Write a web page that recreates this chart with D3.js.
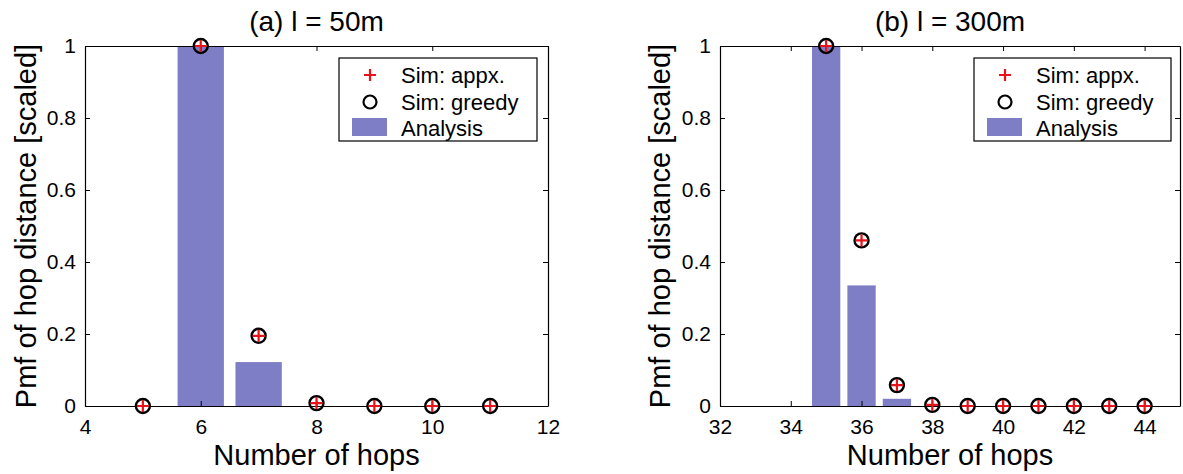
<!DOCTYPE html>
<html>
<head>
<meta charset="utf-8">
<script src="https://cdn.jsdelivr.net/npm/d3@7"></script>
<style>
  body { margin: 0; background: #fff; }
  text { font-family: "Liberation Sans", Arial, Helvetica, sans-serif; fill: #000; }
</style>
</head>
<body>
<svg id="chart" width="1183" height="474"></svg>
<script>
// panel (a) l = 50m
const hopsA = [5, 6, 7, 8, 9, 10, 11];
const simAppxA = [0, 1, 0.195, 0.008, 0, 0, 0];
const simGreedyA = [0, 1, 0.195, 0.008, 0, 0, 0];
const barHopsA = [6, 7];
const analysisA = [1, 0.122];
const xTicksA = [4, 6, 8, 10, 12];

// panel (b) l = 300m
const hopsB = [35, 36, 37, 38, 39, 40, 41, 42, 43, 44];
const simAppxB = [1, 0.46, 0.058, 0.003, 0, 0, 0, 0, 0, 0];
const simGreedyB = [1, 0.46, 0.058, 0.003, 0, 0, 0, 0, 0, 0];
const barHopsB = [35, 36, 37];
const analysisB = [1, 0.335, 0.02];
const xTicksB = [32, 34, 36, 38, 40, 42, 44];

const yTicks = [0, 0.2, 0.4, 0.6, 0.8, 1];
const legendLabels = ['Sim: appx.', 'Sim: greedy', 'Analysis'];

const barColor = '#7d7ec5';
const svg = d3.select('#chart');

function drawPanel(cfg) {
    const { left, right, top, bottom } = cfg.box;
    const x = d3.scaleLinear().domain(cfg.xDomain).range([left, right]);
    const y = d3.scaleLinear().domain([0, 1]).range([bottom, top]);
    const g = svg.append('g');

    // bars
    g.selectAll('rect.bar')
        .data(cfg.barHops.map((h, i) => ({ h: h, v: cfg.analysis[i] })))
        .enter().append('rect')
        .attr('class', 'bar')
        .attr('x', d => x(d.h - 0.4))
        .attr('width', d => x(d.h + 0.4) - x(d.h - 0.4))
        .attr('y', d => y(d.v))
        .attr('height', d => y(0) - y(d.v))
        .attr('fill', barColor);

    // axes, MATLAB style ticks inside on all sides
    const xAxis = d3.axisBottom(x).tickValues(cfg.xTicks).tickSizeInner(-5).tickSizeOuter(0).tickPadding(13).tickFormat(d3.format('d'));
    const xAxisG = g.append('g').attr('transform', `translate(0,${bottom})`).call(xAxis);
    const xTopG = g.append('g').attr('transform', `translate(0,${top})`)
        .call(d3.axisTop(x).tickValues(cfg.xTicks).tickSizeInner(-5).tickSizeOuter(0).tickFormat(''));
    const yAxis = d3.axisLeft(y).tickValues(yTicks).tickSizeInner(-5).tickSizeOuter(0).tickPadding(9).tickFormat(d => d3.format('~g')(d));
    const yAxisG = g.append('g').attr('transform', `translate(${left},0)`).call(yAxis);
    const yRightG = g.append('g').attr('transform', `translate(${right},0)`)
        .call(d3.axisRight(y).tickValues(yTicks).tickSizeInner(-5).tickSizeOuter(0).tickFormat(''));
    [xAxisG, xTopG, yAxisG, yRightG].forEach(a => {
        a.selectAll('.domain').attr('stroke', '#000').attr('stroke-width', 1.2);
        a.selectAll('line').attr('stroke', '#000');
        a.selectAll('text').style('font-size', '21px').attr('fill', '#000');
    });

    // markers
    const pts = cfg.hops.map((h, i) => ({ h: h, a: cfg.simAppx[i], gr: cfg.simGreedy[i] }));
    g.selectAll('circle.greedy').data(pts).enter().append('circle')
        .attr('class', 'greedy')
        .attr('cx', d => x(d.h)).attr('cy', d => y(d.gr)).attr('r', 7)
        .attr('fill', 'none').attr('stroke', '#000').attr('stroke-width', 2.4);
    g.selectAll('path.appx').data(pts).enter().append('path')
        .attr('class', 'appx')
        .attr('d', d => `M${x(d.h) - 6},${y(d.a)}H${x(d.h) + 6}M${x(d.h)},${y(d.a) - 6}V${y(d.a) + 6}`)
        .attr('stroke', '#e8141b').attr('stroke-width', 2.2);

    // title and labels
    const cx = (left + right) / 2;
    g.append('text').attr('x', cx).attr('y', 31).attr('text-anchor', 'middle')
        .style('font-size', '28px').text(cfg.title);
    g.append('text').attr('x', cx).attr('y', 465).attr('text-anchor', 'middle')
        .style('font-size', '29px').text('Number of hops');
    g.append('text')
        .attr('transform', `translate(${cfg.yLabelX},${(top + bottom) / 2}) rotate(-90)`)
        .attr('text-anchor', 'middle').attr('dy', '0.35em')
        .style('font-size', '29px').text('Pmf of hop distance [scaled]');

    // legend
    const lg = g.append('g').attr('transform', `translate(${cfg.legend.x},${cfg.legend.y})`);
    lg.append('rect').attr('width', cfg.legend.w).attr('height', 83)
        .attr('fill', '#fff').attr('stroke', '#000').attr('stroke-width', 1.2);
    const rows = [17, 44, 70];
    lg.append('path').attr('d', `M25,${rows[0]}H37M31,${rows[0] - 6}V${rows[0] + 6}`)
        .attr('stroke', '#e8141b').attr('stroke-width', 2.2);
    lg.append('circle').attr('cx', 31).attr('cy', rows[1]).attr('r', 6.5)
        .attr('fill', 'none').attr('stroke', '#000').attr('stroke-width', 2.2);
    lg.append('rect').attr('x', 13).attr('y', rows[2] - 10).attr('width', 35).attr('height', 18).attr('fill', barColor);
    legendLabels.forEach((t, i) => {
        lg.append('text').attr('x', 62).attr('y', rows[i]).attr('dy', '0.36em')
            .style('font-size', '22px').text(t);
    });
}

drawPanel({
    box: { left: 85, right: 548, top: 46, bottom: 406 },
    xDomain: [4, 12], xTicks: xTicksA,
    hops: hopsA, simAppx: simAppxA, simGreedy: simGreedyA,
    barHops: barHopsA, analysis: analysisA,
    title: '(a) l = 50m', yLabelX: 26,
    legend: { x: 339, y: 58, w: 198 }
});

drawPanel({
    box: { left: 720, right: 1180, top: 46, bottom: 406 },
    xDomain: [32, 45], xTicks: xTicksB,
    hops: hopsB, simAppx: simAppxB, simGreedy: simGreedyB,
    barHops: barHopsB, analysis: analysisB,
    title: '(b) l = 300m', yLabelX: 660,
    legend: { x: 974, y: 58, w: 197 }
});
</script>
</body>
</html>
